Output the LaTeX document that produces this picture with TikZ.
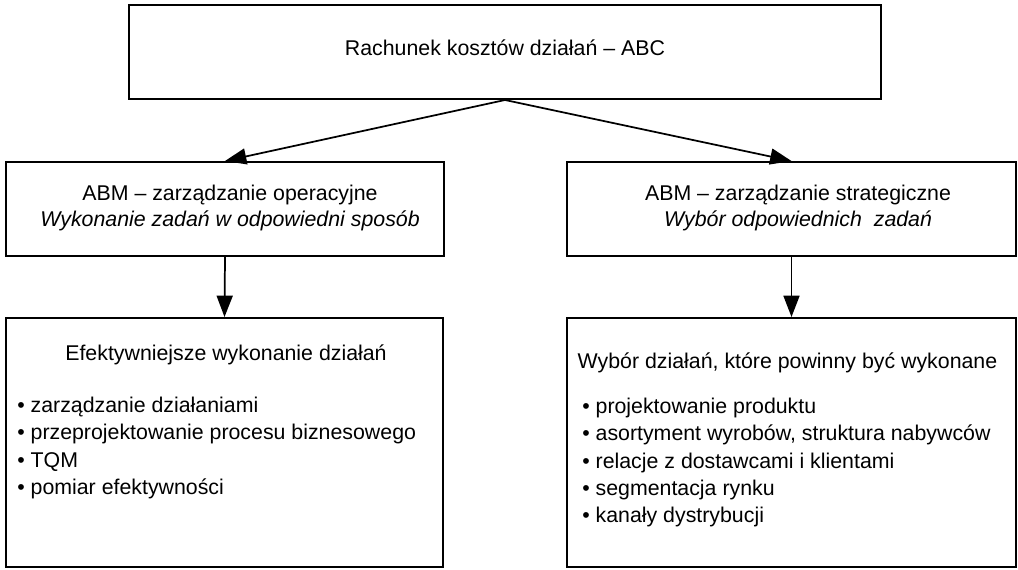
\documentclass[tikz,border=0pt]{standalone}
\usepackage{fontspec}
\setmainfont{Liberation Sans}
\usetikzlibrary{arrows.meta}
\begin{document}
\begin{tikzpicture}[x=0.75pt,y=-0.75pt,
  font=\fontsize{16}{19.5}\selectfont,
  box/.style={draw, line width=1.5pt, inner sep=0pt, rectangle},
  txt/.style={inner sep=0pt, align=center},
  list/.style={inner sep=0pt, align=left, font=\fontsize{16}{20.5}\selectfont},
  arr/.style={line width=1.3pt, -{Triangle[length=16pt,width=12pt]}}]
\useasboundingbox (0,0) rectangle (1018,570);

% boxes
\node[box, minimum width=564pt, minimum height=70.5pt] (abc) at (505,52) {};
\node[box, minimum width=328.5pt, minimum height=70.5pt] (opl) at (225,209) {};
\node[box, minimum width=336.75pt, minimum height=70.5pt] (str) at (791.5,209) {};
\node[box, minimum width=327.75pt, minimum height=186.75pt] (eff) at (224.5,442.5) {};
\node[box, minimum width=336.75pt, minimum height=186.75pt] (wyb) at (791.5,442.5) {};

% texts
\node[txt] (tabc) at (505,48) {Rachunek kosztów działań – ABC};
\node[txt] (topl) at (230,208) {ABM – zarządzanie operacyjne\\\textit{Wykonanie zadań w odpowiedni sposób}};
\node[txt] (tstr) at (798,208) {ABM – zarządzanie strategiczne\\\textit{Wybór odpowiednich~ zadań}};
\node[txt] (heff) at (226,355) {Efektywniejsze wykonanie działań};
\node[txt] (hwyb) at (787.5,363) {Wybór działań, które powinny być wykonane};
\node[list, anchor=west] (leff) at (17,448) {• zarządzanie działaniami\\• przeprojektowanie procesu biznesowego\\• TQM\\• pomiar efektywności};
\node[list, anchor=west] (lwyb) at (582,462.5) {• projektowanie produktu\\• asortyment wyrobów, struktura nabywców\\• relacje z dostawcami i klientami\\• segmentacja rynku\\• kanały dystrybucji};

% connectors
\draw[arr] (abc.south) -- (opl.north);
\draw[arr] (abc.south) -- (str.north);
\draw[arr] (opl.south) -- (eff.north);
\draw[arr] (str.south) -- (wyb.north);
\end{tikzpicture}
\end{document}
